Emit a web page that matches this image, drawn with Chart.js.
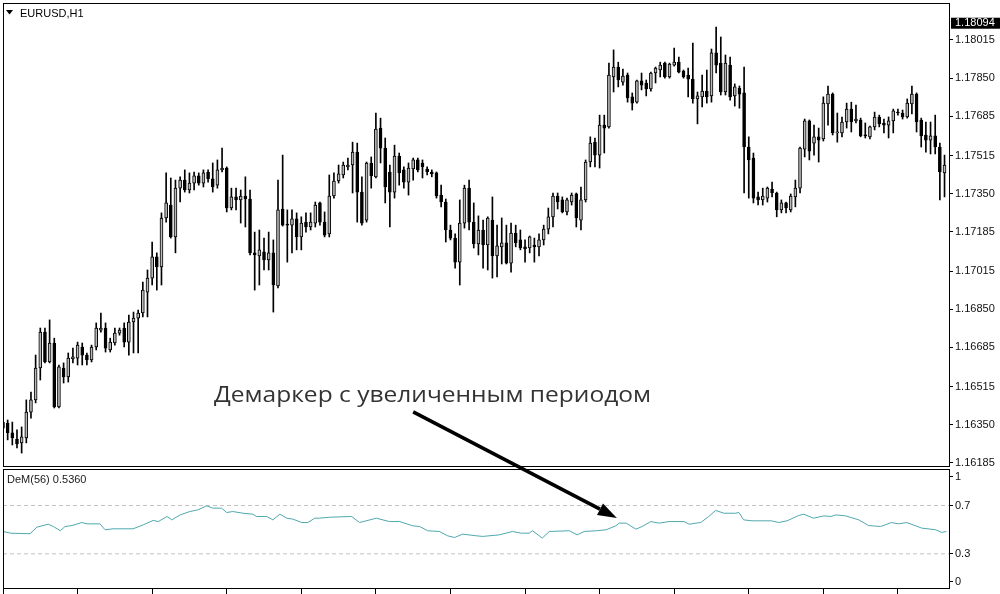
<!DOCTYPE html>
<html>
<head>
<meta charset="utf-8">
<script src="https://cdn.jsdelivr.net/npm/chart.js@4.4.1/dist/chart.umd.min.js"></script>
<style>
html, body { margin: 0; padding: 0; background: #fff; }
#chart { display: block; }
</style>
</head>
<body>
<canvas id="chart" width="1000" height="594"></canvas>
<script>
// EURUSD H1 candles, oldest first
const opens = [
1.16336,1.16358,1.16315,1.16289,1.16272,1.16293,1.16405,1.16458,1.16596,1.16751,
1.16622,1.16704,1.16428,1.16596,1.16557,1.16635,1.16639,1.16687,1.16652,1.16631,
1.16687,1.16760,1.16769,1.16674,1.16704,1.16747,1.16769,1.16708,1.16795,1.16812,
1.16834,1.16924,1.16985,1.17077,1.17033,1.17245,1.17301,1.17163,1.17374,1.17409,
1.17366,1.17396,1.17427,1.17396,1.17444,1.17414,1.17387,1.17453,1.17461,1.17288,
1.17336,1.17323,1.17340,1.17327,1.17094,1.17081,1.17098,1.17063,1.17094,1.16951,
1.17284,1.17219,1.17214,1.17241,1.17163,1.17227,1.17206,1.17223,1.17310,1.17227,
1.17176,1.17340,1.17405,1.17431,1.17466,1.17474,1.17530,1.17357,1.17236,1.17483,
1.17423,1.17634,1.17547,1.17444,1.17357,1.17513,1.17453,1.17400,1.17457,1.17496,
1.17483,1.17457,1.17444,1.17440,1.17344,1.17314,1.17193,1.17158,1.17054,1.17223,
1.17374,1.17227,1.17133,1.17193,1.17128,1.17236,1.17081,1.17120,1.17137,1.17050,
1.17180,1.17150,1.17120,1.17115,1.17128,1.17120,1.17150,1.17197,1.17250,1.17340,
1.17323,1.17271,1.17314,1.17349,1.17236,1.17323,1.17487,1.17573,1.17517,1.17647,
1.17639,1.17855,1.17898,1.17833,1.17863,1.17769,1.17746,1.17838,1.17829,1.17803,
1.17872,1.17885,1.17915,1.17855,1.17906,1.17919,1.17881,1.17863,1.17846,1.17760,
1.17769,1.17794,1.17773,1.17959,1.17915,1.17790,1.17906,1.17773,1.17807,1.17786,
1.17552,1.17504,1.17336,1.17323,1.17331,1.17370,1.17353,1.17280,1.17310,1.17280,
1.17336,1.17374,1.17543,1.17665,1.17569,1.17596,1.17587,1.17738,1.17781,1.17613,
1.17613,1.17660,1.17716,1.17665,1.17669,1.17604,1.17596,1.17639,1.17682,1.17656,
1.17647,1.17665,1.17703,1.17699,1.17682,1.17738,1.17781,1.17669,1.17604,1.17582,
1.17600,1.17552,1.17440
];
const highs = [
1.16379,1.16371,1.16362,1.16328,1.16341,1.16458,1.16492,1.16652,1.16769,1.16769,
1.16804,1.16725,1.16609,1.16618,1.16661,1.16682,1.16708,1.16704,1.16661,1.16695,
1.16791,1.16834,1.16791,1.16725,1.16769,1.16769,1.16791,1.16825,1.16838,1.16847,
1.16968,1.17020,1.17141,1.17094,1.17267,1.17440,1.17418,1.17409,1.17423,1.17453,
1.17440,1.17444,1.17440,1.17453,1.17453,1.17483,1.17496,1.17547,1.17466,1.17374,
1.17374,1.17366,1.17423,1.17366,1.17184,1.17193,1.17158,1.17184,1.17150,1.17409,
1.17517,1.17280,1.17280,1.17267,1.17250,1.17267,1.17267,1.17314,1.17314,1.17271,
1.17431,1.17440,1.17474,1.17487,1.17504,1.17573,1.17569,1.17423,1.17487,1.17509,
1.17699,1.17677,1.17591,1.17474,1.17560,1.17526,1.17466,1.17483,1.17504,1.17504,
1.17496,1.17466,1.17453,1.17444,1.17387,1.17327,1.17214,1.17176,1.17323,1.17387,
1.17409,1.17310,1.17254,1.17236,1.17250,1.17336,1.17214,1.17245,1.17214,1.17223,
1.17214,1.17193,1.17150,1.17167,1.17158,1.17176,1.17214,1.17288,1.17353,1.17353,
1.17336,1.17331,1.17353,1.17353,1.17379,1.17496,1.17596,1.17591,1.17690,1.17690,
1.17915,1.17972,1.17919,1.17889,1.17872,1.17786,1.17842,1.17872,1.17842,1.17876,
1.17898,1.17919,1.17919,1.17915,1.17980,1.17941,1.17885,1.17893,1.18002,1.17790,
1.17863,1.17885,1.17976,1.18071,1.18028,1.17950,1.17941,1.17825,1.17816,1.17898,
1.17596,1.17526,1.17357,1.17374,1.17379,1.17400,1.17357,1.17323,1.17314,1.17349,
1.17409,1.17552,1.17673,1.17669,1.17647,1.17634,1.17769,1.17816,1.17786,1.17699,
1.17682,1.17742,1.17746,1.17733,1.17677,1.17656,1.17643,1.17703,1.17690,1.17673,
1.17682,1.17716,1.17716,1.17712,1.17760,1.17816,1.17786,1.17677,1.17660,1.17660,
1.17690,1.17569,1.17517
];
const lows = [
1.16328,1.16285,1.16263,1.16250,1.16228,1.16272,1.16379,1.16445,1.16544,1.16618,
1.16618,1.16423,1.16423,1.16531,1.16535,1.16618,1.16609,1.16609,1.16609,1.16622,
1.16674,1.16751,1.16665,1.16665,1.16695,1.16738,1.16687,1.16652,1.16661,1.16661,
1.16817,1.16817,1.16955,1.16933,1.16955,1.17227,1.17158,1.17094,1.17314,1.17357,
1.17353,1.17366,1.17387,1.17379,1.17400,1.17357,1.17374,1.17444,1.17271,1.17280,
1.17280,1.17223,1.17206,1.17085,1.16933,1.16955,1.17020,1.17020,1.16838,1.16942,
1.17210,1.17054,1.17094,1.17107,1.17107,1.17184,1.17193,1.17206,1.17214,1.17163,
1.17163,1.17331,1.17396,1.17418,1.17453,1.17353,1.17227,1.17214,1.17227,1.17374,
1.17418,1.17483,1.17310,1.17206,1.17331,1.17387,1.17374,1.17344,1.17409,1.17444,
1.17418,1.17431,1.17423,1.17331,1.17293,1.17141,1.17150,1.17028,1.16955,1.17201,
1.17193,1.17115,1.17085,1.17028,1.17020,1.16985,1.16990,1.17046,1.17046,1.17011,
1.17120,1.17107,1.17054,1.17094,1.17054,1.17081,1.17128,1.17176,1.17206,1.17284,
1.17267,1.17258,1.17301,1.17206,1.17193,1.17314,1.17466,1.17466,1.17461,1.17526,
1.17634,1.17790,1.17812,1.17820,1.17746,1.17712,1.17742,1.17799,1.17773,1.17794,
1.17829,1.17855,1.17850,1.17850,1.17902,1.17872,1.17850,1.17769,1.17742,1.17652,
1.17725,1.17742,1.17746,1.17872,1.17777,1.17777,1.17755,1.17729,1.17720,1.17353,
1.17331,1.17310,1.17301,1.17301,1.17314,1.17336,1.17250,1.17267,1.17267,1.17271,
1.17293,1.17353,1.17509,1.17496,1.17517,1.17487,1.17578,1.17647,1.17604,1.17573,
1.17596,1.17634,1.17617,1.17656,1.17596,1.17591,1.17587,1.17626,1.17639,1.17613,
1.17591,1.17613,1.17690,1.17673,1.17677,1.17695,1.17617,1.17552,1.17530,1.17522,
1.17522,1.17323,1.17336
];
const closes = [
1.16362,1.16315,1.16293,1.16268,1.16298,1.16405,1.16458,1.16596,1.16751,1.16622,
1.16704,1.16428,1.16601,1.16557,1.16639,1.16644,1.16695,1.16652,1.16631,1.16687,
1.16769,1.16769,1.16682,1.16708,1.16747,1.16760,1.16708,1.16795,1.16812,1.16834,
1.16933,1.16985,1.17077,1.17033,1.17245,1.17310,1.17163,1.17374,1.17409,1.17366,
1.17396,1.17427,1.17396,1.17440,1.17414,1.17379,1.17453,1.17461,1.17288,1.17336,
1.17323,1.17340,1.17327,1.17094,1.17085,1.17107,1.17063,1.17094,1.16955,1.17280,
1.17214,1.17214,1.17241,1.17163,1.17223,1.17206,1.17227,1.17301,1.17227,1.17171,
1.17340,1.17405,1.17436,1.17474,1.17474,1.17530,1.17357,1.17223,1.17483,1.17427,
1.17630,1.17547,1.17379,1.17357,1.17513,1.17440,1.17400,1.17461,1.17496,1.17453,
1.17466,1.17444,1.17436,1.17340,1.17314,1.17193,1.17158,1.17054,1.17223,1.17374,
1.17227,1.17133,1.17193,1.17128,1.17245,1.17081,1.17124,1.17137,1.17050,1.17180,
1.17137,1.17115,1.17111,1.17163,1.17120,1.17150,1.17197,1.17250,1.17340,1.17314,
1.17271,1.17323,1.17344,1.17245,1.17323,1.17487,1.17569,1.17517,1.17647,1.17634,
1.17863,1.17898,1.17842,1.17859,1.17764,1.17742,1.17838,1.17820,1.17803,1.17872,
1.17893,1.17906,1.17855,1.17911,1.17919,1.17876,1.17855,1.17846,1.17760,1.17773,
1.17794,1.17769,1.17959,1.17906,1.17790,1.17915,1.17769,1.17812,1.17781,1.17552,
1.17496,1.17331,1.17323,1.17340,1.17374,1.17353,1.17280,1.17310,1.17288,1.17340,
1.17374,1.17547,1.17665,1.17534,1.17596,1.17582,1.17742,1.17781,1.17613,1.17617,
1.17660,1.17716,1.17660,1.17673,1.17600,1.17600,1.17639,1.17682,1.17652,1.17647,
1.17665,1.17708,1.17699,1.17682,1.17742,1.17781,1.17660,1.17600,1.17582,1.17600,
1.17552,1.17444,1.17474
];

// DeMarker(56) read at bar positions
const demBars = [0,1.6,5.8,7.3,9.7,10.8,12.3,13.3,14.8,16.9,18,20.8,21.9,23.6,27.9,30.1,32.2,33.3,35.2,36.2,
  38,40.1,41.8,43.7,45,46.9,48,49.3,51.5,53.6,54.4,56.6,57.9,59.4,60.9,62.2,64.1,65.4,66.9,67.9,
  70.1,74.8,76.5,80.1,82.9,85.1,87.9,89.4,91.1,93.6,95.4,96.9,98.6,101.6,102.9,106.5,109.3,111.2,112.9,113.6,
  115.7,117.2,121.5,123.2,124.7,127.3,129.4,131.5,132.2,133.7,135.8,137.1,139,140.8,142.9,146.1,147.2,148.7,149.7,151.4,
  152.9,154.7,157.2,157.9,158.9,160.7,164.9,166.4,168.2,170.7,171.8,173.9,176.1,177.6,178.7,180.8,183.6,185.7,188.3,190.6,
  192.1,193.9,197.1,200.1,201.4,202.4];
const demValues = [0.485,0.471,0.466,0.521,0.545,0.526,0.491,0.526,0.534,0.559,0.548,0.548,0.499,0.507,0.507,0.540,0.576,0.567,0.609,0.581,
  0.622,0.650,0.664,0.697,0.678,0.678,0.642,0.650,0.636,0.628,0.609,0.609,0.581,0.628,0.595,0.587,0.559,0.559,0.595,0.595,
  0.603,0.609,0.559,0.595,0.567,0.567,0.532,0.526,0.491,0.485,0.449,0.435,0.463,0.449,0.444,0.457,0.485,0.471,0.471,0.491,
  0.430,0.485,0.491,0.457,0.485,0.491,0.499,0.532,0.554,0.554,0.504,0.526,0.567,0.554,0.567,0.567,0.545,0.554,0.559,0.609,
  0.659,0.636,0.636,0.642,0.581,0.573,0.573,0.559,0.573,0.617,0.628,0.595,0.614,0.609,0.622,0.614,0.581,0.534,0.526,0.559,
  0.548,0.559,0.513,0.499,0.477,0.485];
const demLevels = [0.7, 0.3];

const priceTicks = [1.18015, 1.17850, 1.17685, 1.17515, 1.17350, 1.17185, 1.17015, 1.16850, 1.16685, 1.16515, 1.16350, 1.16185];
const currentPrice = 1.18094;
const demTickValues = [0.936, 0.7, 0.3, 0.067];
const demTickLabels = ['1', '0.7', '0.3', '0'];
const xTickBars = [0, 16, 32, 48, 64, 80, 96, 112, 128, 144, 160, 176, 192];

const symbolTitle = 'EURUSD,H1';
const demTitle = 'DeM(56) 0.5360';
const noteText = 'Демаркер с увеличенным периодом';
const arrowFrom = { bar: 88.0, price: 1.16406 };
const arrowTo = { bar: 131.7, dem: 0.597 };

const X_MIN = 0, X_MAX = 202.96;
const FONT = 'Liberation Sans';

const bars = opens.map((o, i) => i);
const wickData = bars.map(i => ({ x: i, y: [lows[i], highs[i]] }));
const bodyData = bars.map(i => ({ x: i, y: [opens[i], closes[i]] }));
const demData = demBars.map((b, i) => ({ x: b, y: demValues[i] }));

// right axes: fixed width, no extra label padding at the ends
function fitRightAxis(s) {
    s.width = 51;
    s.paddingTop = 0;
    s.paddingBottom = 0;
}

const decor = {
    id: 'decor',
    afterDraw(chart) {
        const { ctx, chartArea } = chart;
        const xs = chart.scales.x, ys = chart.scales.y, ds = chart.scales.dem;
        const w = chartArea.right - chartArea.left;
        ctx.save();
        ctx.strokeStyle = '#000';
        ctx.lineWidth = 1;
        ctx.strokeRect(chartArea.left + 0.5, ys.top + 0.5, w, ys.bottom - ys.top);
        ctx.strokeRect(chartArea.left + 0.5, ds.top + 3.5, w, ds.bottom - ds.top - 3);

        // symbol title
        ctx.fillStyle = '#000';
        ctx.beginPath();
        ctx.moveTo(6, 10); ctx.lineTo(13, 10); ctx.lineTo(9.5, 14.5); ctx.closePath();
        ctx.fill();
        ctx.font = '11px "' + FONT + '"';
        ctx.textBaseline = 'alphabetic';
        ctx.fillText(symbolTitle, 20, 17);
        ctx.fillStyle = '#1a1a1a';
        ctx.fillText(demTitle, 7, ds.top + 17);

        // current price tag
        const py = ys.getPixelForValue(currentPrice);
        ctx.fillStyle = '#000';
        ctx.fillRect(chartArea.right + 2, py - 4, chart.width - chartArea.right - 2, 11);
        ctx.fillStyle = '#fff';
        ctx.textBaseline = 'middle';
        ctx.fillText(currentPrice.toFixed(5), chartArea.right + 6, py + 1.5);

        // note and arrow
        ctx.fillStyle = '#333';
        ctx.textBaseline = 'alphabetic';
        ctx.font = '22px "Open Sans"';
        const tw = ctx.measureText(noteText).width;
        ctx.save();
        ctx.translate(214, 402);
        ctx.scale(437 / tw, 1);
        ctx.fillText(noteText, 0, 0);
        ctx.restore();

        const x0 = xs.getPixelForValue(arrowFrom.bar), y0 = ys.getPixelForValue(arrowFrom.price);
        const x1 = xs.getPixelForValue(arrowTo.bar), y1 = ds.getPixelForValue(arrowTo.dem);
        const ang = Math.atan2(y1 - y0, x1 - x0);
        const head = 19, half = 6.5;
        const bx = x1 - head * Math.cos(ang), by = y1 - head * Math.sin(ang);
        ctx.strokeStyle = '#000';
        ctx.lineWidth = 3.5;
        ctx.beginPath();
        ctx.moveTo(x0, y0);
        ctx.lineTo(bx, by);
        ctx.stroke();
        ctx.fillStyle = '#000';
        ctx.beginPath();
        ctx.moveTo(x1, y1);
        ctx.lineTo(bx + half * Math.sin(ang), by - half * Math.cos(ang));
        ctx.lineTo(bx - half * Math.sin(ang), by + half * Math.cos(ang));
        ctx.closePath();
        ctx.fill();
        ctx.restore();
    }
};

new Chart(document.getElementById('chart'), {
    type: 'bar',
    data: {
        datasets: [
            {
                label: 'wicks',
                data: wickData,
                yAxisID: 'y',
                backgroundColor: '#000',
                borderWidth: 0,
                barThickness: 1,
                grouped: false,
                order: 2
            },
            {
                label: 'bodies',
                data: bodyData,
                yAxisID: 'y',
                backgroundColor: ctx => closes[ctx.dataIndex] >= opens[ctx.dataIndex] ? '#b8b8b8' : '#000',
                borderColor: '#000',
                borderWidth: 1,
                borderSkipped: false,
                barThickness: 3,
                minBarLength: 1,
                grouped: false,
                order: 1
            },
            {
                type: 'line',
                label: 'DeM',
                data: demData,
                yAxisID: 'dem',
                borderColor: '#4fa8ae',
                borderWidth: 1,
                pointRadius: 0,
                tension: 0,
                order: 0
            },
            ...demLevels.map(v => ({
                type: 'line',
                label: 'level ' + v,
                data: [{ x: X_MIN, y: v }, { x: X_MAX, y: v }],
                yAxisID: 'dem',
                borderColor: '#c4c4c4',
                borderWidth: 1,
                borderDash: [4, 3],
                pointRadius: 0,
                order: 3
            }))
        ]
    },
    options: {
        responsive: false,
        animation: false,
        devicePixelRatio: 1,
        layout: { padding: { top: 3, left: 3, right: 0, bottom: 0 } },
        plugins: { legend: { display: false }, tooltip: { enabled: false } },
        scales: {
            x: {
                type: 'linear',
                min: X_MIN,
                max: X_MAX,
                offset: false,
                grid: { offset: false, drawOnChartArea: false, drawTicks: true, tickLength: 6, tickColor: '#000' },
                border: { display: false },
                ticks: { display: false },
                afterBuildTicks: s => { s.ticks = xTickBars.map(v => ({ value: v })); },
                afterFit: s => { s.height = 6; s.paddingLeft = 0; s.paddingRight = 0; }
            },
            y: {
                type: 'linear',
                position: 'right',
                stack: 'panes',
                stackWeight: 463,
                min: 1.16172,
                max: 1.18175,
                beginAtZero: false,
                grid: { drawOnChartArea: false, drawTicks: true, tickLength: 4, tickColor: '#000' },
                border: { display: false },
                ticks: {
                    autoSkip: false,
                    padding: 2,
                    color: '#111',
                    font: { family: FONT, size: 11 },
                    callback: v => v.toFixed(5)
                },
                afterBuildTicks: s => { s.ticks = priceTicks.map(v => ({ value: v })); },
                afterFit: fitRightAxis
            },
            dem: {
                type: 'linear',
                position: 'right',
                stack: 'panes',
                stackWeight: 122,
                min: 0.017,
                max: 1.027,
                beginAtZero: false,
                grid: { drawOnChartArea: false, drawTicks: true, tickLength: 4, tickColor: '#000' },
                border: { display: false },
                ticks: {
                    autoSkip: false,
                    padding: 2,
                    color: '#111',
                    font: { family: FONT, size: 11 },
                    callback: (v, i) => demTickLabels[i]
                },
                afterBuildTicks: s => { s.ticks = demTickValues.map(v => ({ value: v })); },
                afterFit: fitRightAxis
            }
        }
    },
    plugins: [decor]
});
</script>
</body>
</html>
